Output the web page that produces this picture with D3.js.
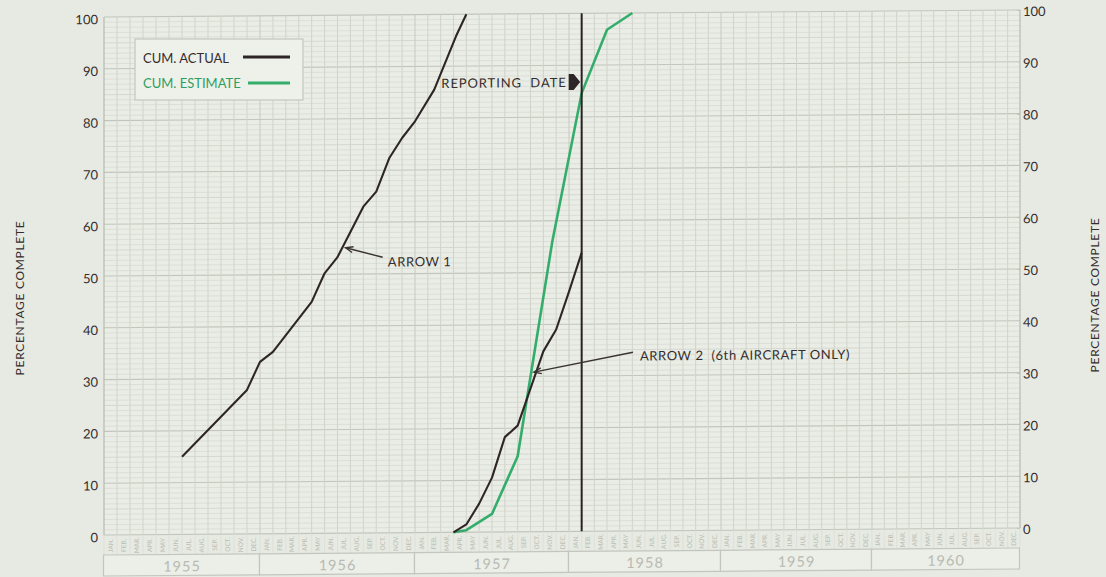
<!DOCTYPE html>
<html><head><meta charset="utf-8">
<script src="https://cdn.jsdelivr.net/npm/d3@7"></script>
<style>
html,body{margin:0;padding:0;background:#e7eae2;}
svg{display:block;font-family:Lato,"Open Sans",sans-serif;}
</style></head><body>
<svg id="chart" width="1106" height="577"></svg>
<script>
// ---- data ----
const monthLabels = ["JAN.","FEB.","MAR.","APR.","MAY","JUN.","JUL.","AUG.","SEP.","OCT.","NOV.","DEC."];
const years = ["1955","1956","1957","1958","1959","1960"];
const yTicks = [0,10,20,30,40,50,60,70,80,90,100];
// months counted from start of Jan 1955 (end-of-month positions)
const actual1Months = [6, 11, 12, 13, 16, 17, 18, 20, 21, 22, 23, 24, 25.5, 27.2, 28];
const actual1Values = [15, 27.8, 33.2, 35.1, 44.7, 50.2, 53.3, 63.0, 65.9, 72.3, 76.2, 79.4, 85.5, 95.8, 100];
const actual2Months = [27, 28, 29, 30, 31, 32, 34, 35, 36, 37];
const actual2Values = [0, 1.5, 5.5, 10.5, 18.3, 20.5, 34.8, 39, 46.3, 53.8];
const estimateMonths = [27, 28, 30, 32, 34.7, 37, 39, 41];
const estimateValues = [0, 0.4, 3.5, 14.6, 56, 84.6, 96.8, 100];
const reportingMonth = 37;
const arrow1 = {tipM: 18.63, tipV: 55.1, tailM: 21.5, tailV: 53.2, textM: 21.9, textV: 51.4, label: "ARROW 1"};
const arrow2 = {tipM: 33.27, tipV: 30.8, tailM: 41.05, tailV: 34.5, textM: 41.6, textV: 32.9, label: "ARROW 2  (6th AIRCRAFT ONLY)"};
const reportingLabel = {v: 85.8, label: "REPORTING  DATE"};

// ---- scales ----
const x = d3.scaleLinear().domain([0,12,24,36,48,60,72]).range([104,260,415,569,721,872,1020]);
const y = d3.scaleLinear().domain([0,100]).range([535,17]);

const svg = d3.select("#chart");
const ink = "#352d2d";
const green = "#34ad6c";
const skewDeg = Math.atan(-7/916)*180/Math.PI;
const g = svg.append("g").attr("transform", `translate(104,0) skewY(${skewDeg}) translate(-104,0)`);

// plot background
g.append("rect").attr("x", x(0)).attr("y", y(100)).attr("width", x(72)-x(0)).attr("height", y(0)-y(100)).attr("fill", "#eaede5");

// horizontal grid
g.append("g").selectAll("line").data(d3.range(0,101,1)).join("line")
  .attr("x1", x(0)).attr("x2", x(72)).attr("y1", d=>y(d)).attr("y2", d=>y(d))
  .attr("stroke", d => d%10===0 ? "#c1c5bc" : (d%5===0 ? "#cfd2ca" : "#d8dbd3"))
  .attr("stroke-width", d => d%10===0 ? 1.1 : 0.8);
// vertical grid
g.append("g").selectAll("line").data(d3.range(0,73,1)).join("line")
  .attr("x1", d=>x(d)).attr("x2", d=>x(d)).attr("y1", y(100)).attr("y2", y(0))
  .attr("stroke", d => (d===0||d===72) ? "#b9bdb4" : (d%12===0 ? "#c5c9c0" : "#cfd3ca"))
  .attr("stroke-width", d => (d===0||d===72) ? 1.3 : 1);

// month label strip
g.append("g").selectAll("line").data(d3.range(0,73,1)).join("line")
  .attr("x1", d=>x(d)).attr("x2", d=>x(d)).attr("y1", y(0)).attr("y2", y(0)+20)
  .attr("stroke", "#dcdfd7").attr("stroke-width", 0.8);
const months = d3.range(0,72);
g.append("g").selectAll("text").data(months).join("text")
  .attr("transform", d => `translate(${x(d+0.5)+2.2},${y(0)+10.5}) rotate(-90)`)
  .attr("text-anchor","middle").attr("font-size", 6.5).attr("fill", "#b9bdb3")
  .text(d => monthLabels[d%12]);
// year boxes
g.append("g").selectAll("rect").data(years).join("rect")
  .attr("x", (d,i)=>x(i*12)-0.5).attr("y", y(0)+20).attr("width", (d,i)=>x(i*12+12)-x(i*12)).attr("height", 21)
  .attr("fill", "#eceee8").attr("stroke", "#c3c6be").attr("stroke-width", 1.2);
g.append("g").selectAll("text").data(years).join("text")
  .attr("x", (d,i)=>x(i*12+6)).attr("y", y(0)+37)
  .attr("text-anchor","middle").attr("font-size", 14.5).attr("fill", "#b7bab1").attr("letter-spacing", 1)
  .text(d=>d);

// axis labels
g.append("g").selectAll("text").data(yTicks).join("text")
  .attr("x", x(0)-6).attr("y", d=>y(d)+2.5).attr("dy","0.35em").attr("text-anchor","end")
  .attr("font-size", 13).attr("fill", ink).text(d=>d);
g.append("g").selectAll("text").data(yTicks).join("text")
  .attr("x", x(72)+3).attr("y", d=>y(d)+1.5).attr("dy","0.35em").attr("text-anchor","start")
  .attr("font-size", 13).attr("fill", ink).text(d=>d);

// lines
const line = d3.line().x(d=>x(d[0])).y(d=>y(d[1]));
g.append("path").datum(d3.zip(estimateMonths, estimateValues)).attr("d", line)
  .attr("fill","none").attr("stroke", green).attr("stroke-width", 2.6).attr("stroke-linejoin","round");
g.append("path").datum(d3.zip(actual1Months, actual1Values)).attr("d", line)
  .attr("fill","none").attr("stroke", "#2e2626").attr("stroke-width", 2.1).attr("stroke-linejoin","round");
g.append("path").datum(d3.zip(actual2Months, actual2Values)).attr("d", line)
  .attr("fill","none").attr("stroke", "#2e2626").attr("stroke-width", 2.1).attr("stroke-linejoin","round");

// reporting date
g.append("line").attr("x1", x(reportingMonth)).attr("x2", x(reportingMonth)).attr("y1", y(100)).attr("y2", y(0))
  .attr("stroke", "#2a2222").attr("stroke-width", 2);
const ry = y(reportingLabel.v);
g.append("text").attr("x", x(reportingMonth)-15).attr("y", ry).attr("text-anchor","end")
  .attr("font-size", 13).attr("fill", ink).attr("letter-spacing", 0.9).style("white-space","pre")
  .text(reportingLabel.label);
const rx = x(reportingMonth);
g.append("path").attr("d", `M${rx-13},${ry-13} L${rx-8},${ry-13} L${rx-1.5},${ry-5} L${rx-8},${ry+3} L${rx-13},${ry+3} Z`)
  .attr("fill", "#2e2626");

// arrows
function drawArrow(a){
  const x1 = x(a.tailM), y1 = y(a.tailV), x2 = x(a.tipM), y2 = y(a.tipV);
  g.append("line").attr("x1",x1).attr("y1",y1).attr("x2",x2).attr("y2",y2)
    .attr("stroke","#3a3333").attr("stroke-width",1.4);
  const ang = Math.atan2(y1-y2, x1-x2), L = 8, w = 0.38;
  g.append("path").attr("d", `M${x2+L*Math.cos(ang+w)},${y2+L*Math.sin(ang+w)} L${x2},${y2} L${x2+L*Math.cos(ang-w)},${y2+L*Math.sin(ang-w)}`)
    .attr("fill","none").attr("stroke","#3a3333").attr("stroke-width",1.4);
  g.append("text").attr("x", x(a.textM)).attr("y", y(a.textV)).attr("font-size", 13).attr("fill", ink)
    .attr("letter-spacing", 0.6).style("white-space","pre").text(a.label);
}
drawArrow(arrow1);
drawArrow(arrow2);

// axis titles
svg.append("text").attr("transform","translate(24,298) rotate(-90)").attr("text-anchor","middle")
  .attr("font-size", 12).attr("fill", ink).attr("letter-spacing", 0.7).text("PERCENTAGE COMPLETE");
svg.append("text").attr("transform","translate(1099,295) rotate(-90)").attr("text-anchor","middle")
  .attr("font-size", 12).attr("fill", ink).attr("letter-spacing", 0.7).text("PERCENTAGE COMPLETE");

// legend
const lg = svg.append("g");
lg.append("rect").attr("x",135).attr("y",39).attr("width",168).attr("height",61)
  .attr("fill","#eef0ea").attr("stroke","#c6c9c1").attr("stroke-width",1.3);
lg.append("text").attr("x",143).attr("y",63).attr("font-size",13).attr("fill",ink).text("CUM. ACTUAL");
lg.append("line").attr("x1",243).attr("x2",290).attr("y1",57).attr("y2",57).attr("stroke","#2e2626").attr("stroke-width",3);
lg.append("text").attr("x",143).attr("y",88).attr("font-size",13).attr("fill","#2c9f63").text("CUM. ESTIMATE");
lg.append("line").attr("x1",248).attr("x2",290).attr("y1",83).attr("y2",83).attr("stroke",green).attr("stroke-width",3);
</script>
</body></html>
